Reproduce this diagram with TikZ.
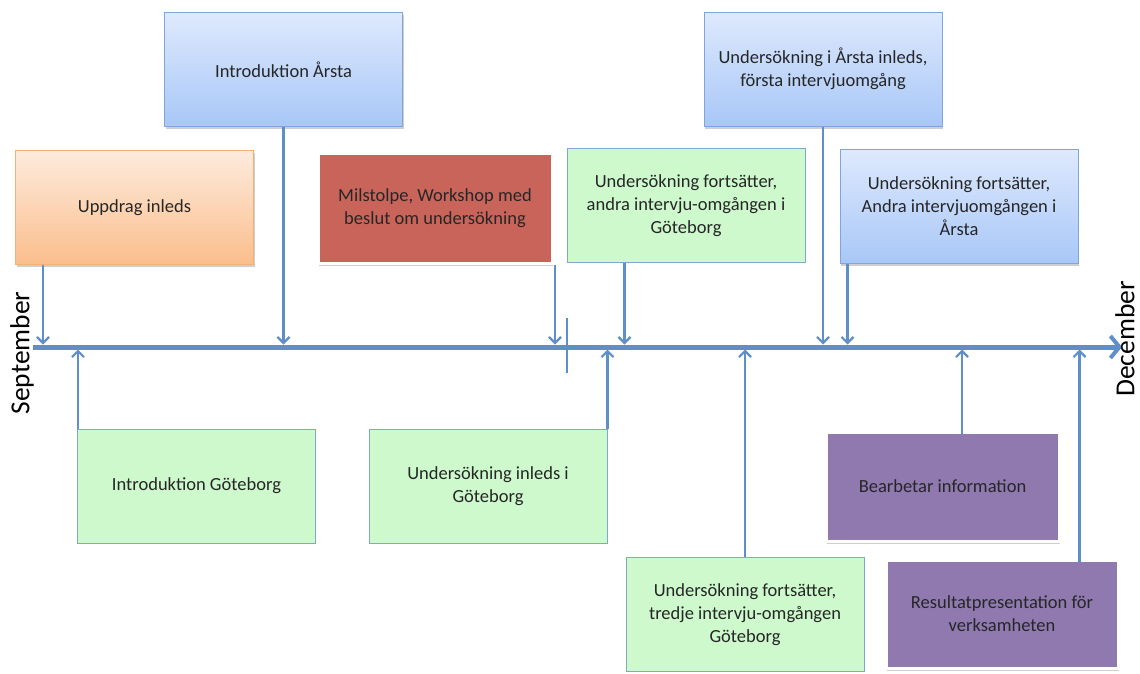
\documentclass[tikz,border=0pt]{standalone}
\usepackage{fontspec}
\setmainfont{Carlito}
\usetikzlibrary{arrows.meta,shadows}
\definecolor{axisblue}{HTML}{5E8FC8}
\definecolor{txt}{HTML}{262626}
\definecolor{blueTop}{HTML}{DEE9FD}
\definecolor{blueBot}{HTML}{A8C7F7}
\definecolor{blueEdge}{HTML}{7FA5DA}
\definecolor{orTop}{HTML}{FDEBDD}
\definecolor{orBot}{HTML}{FBBE8C}
\definecolor{orEdge}{HTML}{F2B07A}
\definecolor{grFill}{HTML}{CDF9CD}
\definecolor{grEdge}{HTML}{7FA8CF}
\definecolor{redFill}{HTML}{C9645A}
\definecolor{purFill}{HTML}{8F79AF}
\tikzset{
  box/.style={rectangle, minimum width=238pt, minimum height=114pt, align=center,
    text=txt, font=\fontsize{18.5}{23}\selectfont, inner sep=2pt},
  softshadow/.style={drop shadow={shadow xshift=1pt, shadow yshift=-2.5pt, opacity=0.35, fill=black!55}},
  bluebox/.style={box, draw=blueEdge, line width=1pt, top color=blueTop, bottom color=blueBot, softshadow},
  orbox/.style={box, draw=orEdge, line width=1pt, top color=orTop, bottom color=orBot, softshadow},
  grbox/.style={box, draw=grEdge, line width=1pt, fill=grFill},
  redbox/.style={box, draw=white, line width=3pt, fill=redFill, text=black!85, softshadow},
  purbox/.style={box, draw=white, line width=3pt, fill=purFill, text=black!85, softshadow},
  conn/.style={draw=axisblue, line width=2.5pt, -{Straight Barb[length=6pt,width=12pt,line width=2.2pt]}},
  axisline/.style={draw=axisblue, line width=5pt, -{Straight Barb[length=9pt,width=22pt,line width=4pt]}},
  monthlbl/.style={font=\fontsize{27.5}{32}\selectfont, text=black, rotate=90, inner sep=0pt},
}
\begin{document}
\begin{tikzpicture}[x=1pt,y=-1pt]
\useasboundingbox (0,0) rectangle (1140,673);

% time axis
\coordinate (axL) at (33,347);
\coordinate (axR) at (1122,347);
\draw[axisline] (axL) -- (axR);
\coordinate (tickT) at (567,318);
\coordinate (tickB) at (567,373);
\draw[draw=axisblue, line width=2.5pt] (tickT) -- (tickB);

\node[monthlbl] (sep) at (22,353) {September};
\node[monthlbl] (dec) at (1125,339) {December};

% events above the axis
\node[orbox]   (upp)   at (134.5,207.5) {Uppdrag inleds};
\node[redbox, minimum width=234pt, minimum height=110pt] (mil) at (435,208) {Milstolpe, Workshop med\\beslut om undersökning};
\node[grbox]   (und2G) at (686,205.5) {Undersökning fortsätter,\\andra intervju-omgången i\\Göteborg};
\node[bluebox] (introA) at (283.5,69.5) {Introduktion Årsta};
\node[bluebox] (undA)  at (823,69) {Undersökning i Årsta inleds,\\första intervjuomgång};
\node[bluebox] (und2A) at (959,206.5) {Undersökning fortsätter,\\Andra intervjuomgången i\\Årsta};

% events below the axis
\node[grbox]   (introG) at (196.5,486) {Introduktion Göteborg};
\node[grbox]   (undG)  at (488,486) {Undersökning inleds i\\Göteborg};
\node[purbox, minimum width=233pt, minimum height=109pt] (bearb) at (942.5,486.5) {Bearbetar information};
\node[grbox]   (und3G) at (745,614.5) {Undersökning fortsätter,\\tredje intervju-omgången\\Göteborg};
\node[purbox, minimum width=232pt, minimum height=108pt] (res) at (1002,614) {Resultatpresentation för\\verksamheten};

% connectors down to the axis
\draw[conn, shorten >=2.5pt] ([xshift=28pt]upp.south west) coordinate (c1) -- (c1 |- axL);
\draw[conn, shorten >=2.5pt] (introA.south) -- (introA.south |- axL);
\draw[conn, shorten >=2.5pt] ([xshift=1.5pt]mil.south east) coordinate (c3) -- (c3 |- axL);
\draw[conn, shorten >=2.5pt] ([xshift=58pt]und2G.south west) coordinate (c4) -- (c4 |- axL);
\draw[conn, shorten >=2.5pt] (undA.south) -- (undA.south |- axL);
\draw[conn, shorten >=2.5pt] ([xshift=8pt]und2A.south west) coordinate (c6) -- (c6 |- axL);

% connectors up to the axis
\draw[conn, shorten >=2.5pt] ([xshift=1pt]introG.north west) coordinate (d1) -- (d1 |- axL);
\draw[conn, shorten >=2.5pt] (undG.north east) -- (undG.north east |- axL);
\draw[conn, shorten >=2.5pt] (und3G.north) -- (und3G.north |- axL);
\draw[conn, shorten >=2.5pt] ([xshift=19.5pt,yshift=-3pt]bearb.north) coordinate (d4) -- (d4 |- axL);
\draw[conn, shorten >=2.5pt] ([xshift=-40pt,yshift=-3pt]res.north east) coordinate (d5) -- (d5 |- axL);
\end{tikzpicture}
\end{document}
